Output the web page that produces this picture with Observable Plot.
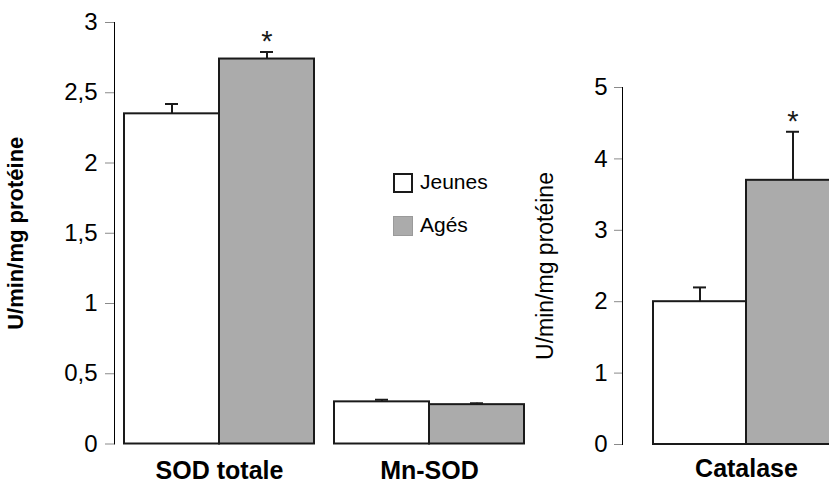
<!DOCTYPE html>
<html>
<head>
<meta charset="utf-8">
<script src="https://cdn.jsdelivr.net/npm/d3@7"></script>
<script src="https://cdn.jsdelivr.net/npm/@observablehq/plot@0.6"></script>
<style>
  html, body { margin: 0; padding: 0; background: #fff; overflow: hidden; }
  #fig { position: relative; width: 829px; height: 483px; overflow: hidden;
         font-family: "Liberation Sans", Arial, sans-serif; color: #000; }
  #fig svg { position: absolute; top: 0; overflow: visible; }
  #fig g[aria-label="y-axis tick"], #fig g[aria-label="y-axis line"],
  #fig g[aria-label="y-axis rule"] { color: #8a8a8a; }
  .sod g[aria-label="y-axis label"] { font-weight: bold; font-size: 22px; }
  .cat g[aria-label="y-axis label"] { font-size: 23px; }
  #fig g[aria-label="y-axis tick label"] { font-size: 24px; }
  #fig g[aria-label="fx-axis tick label"] { font-weight: bold; font-size: 25px; }
  .legend-box { position: absolute; box-sizing: border-box; width: 20px; height: 20px; }
  .legend-text { position: absolute; font-size: 21px; line-height: 21px; white-space: nowrap; }
</style>
</head>
<body>
<div id="fig"></div>
<script>
// Superoxyde dismutase (SOD totale, Mn-SOD) and catalase activity, young vs old
const enzymes = ["SOD totale", "Mn-SOD"];
const groups = ["Jeunes", "Agés"];
const groupFills = ["#ffffff", "#ababab"];

const sodJeunes = [2.35, 0.30];
const sodJeunesErr = [0.07, 0.015];
const sodAges = [2.74, 0.28];
const sodAgesErr = [0.05, 0.01];
const sodAgesSignif = [true, false];

const catLabel = ["Catalase"];
const catJeunes = [2.0];
const catJeunesErr = [0.2];
const catAges = [3.7];
const catAgesErr = [0.68];
const catAgesSignif = [true];

const sodTicks = [0, 0.5, 1, 1.5, 2, 2.5, 3];
const catTicks = [0, 1, 2, 3, 4, 5];
const yLabel = "U/min/mg protéine";

function rowsFor(cats, jv, je, av, ae, sig) {
  const rows = [];
  cats.forEach((c, i) => {
    rows.push({enzyme: c, group: groups[0], value: jv[i], err: je[i], sig: false});
    rows.push({enzyme: c, group: groups[1], value: av[i], err: ae[i], sig: sig[i]});
  });
  return rows;
}

const sodRows = rowsFor(enzymes, sodJeunes, sodJeunesErr, sodAges, sodAgesErr, sodAgesSignif);
const catRows = rowsFor(catLabel, catJeunes, catJeunesErr, catAges, catAgesErr, catAgesSignif);

const ink = "#1a1a1a";
const font = {fontFamily: "'Liberation Sans', Arial, sans-serif", fontSize: "20px",
              color: "#000", background: "transparent", overflow: "visible"};
const commaFormat = d => String(d).replace(".", ",");

function barMarks(rows, capInset) {
  return [
    Plot.barY(rows, {fx: "enzyme", x: "group", y: "value", fill: "group",
                     stroke: ink, strokeWidth: 2}),
    Plot.ruleX(rows, {fx: "enzyme", x: "group", y1: "value", y2: d => d.value + d.err,
                      stroke: ink, strokeWidth: 2}),
    Plot.tickY(rows, {fx: "enzyme", x: "group", y: d => d.value + d.err,
                      stroke: ink, strokeWidth: 2, insetLeft: capInset, insetRight: capInset}),
    Plot.text(rows.filter(d => d.sig), {fx: "enzyme", x: "group", y: d => d.value + d.err,
                      text: () => "*", lineAnchor: "bottom", dy: -1, fontSize: 29, fill: ink})
  ];
}

const sodPlot = Plot.plot({
  className: "sod",
  width: 540, height: 483,
  marginTop: 22, marginBottom: 39.5, marginLeft: 113, marginRight: 6,
  style: font,
  color: {domain: groups, range: groupFills},
  fx: {domain: enzymes, paddingInner: 0, paddingOuter: 0, label: null,
       axis: "bottom", tickSize: 0, tickPadding: 17},
  x: {domain: groups, paddingInner: 0, paddingOuter: 0.105, axis: null},
  y: {domain: [0, 3], ticks: sodTicks, tickFormat: commaFormat,
      tickSize: 9, tickPadding: 8, line: true,
      label: yLabel, labelAnchor: "center", labelArrow: "none", labelOffset: 107},
  marks: barMarks(sodRows, 41)
});
sodPlot.style.left = "0px";

const catPlot = Plot.plot({
  className: "cat",
  width: 340, height: 483,
  marginTop: 87, marginBottom: 39, marginLeft: 82, marginRight: 10,
  style: font,
  color: {domain: groups, range: groupFills},
  fx: {domain: catLabel, paddingInner: 0, paddingOuter: 0, label: null,
       axis: "bottom", tickSize: 0, tickPadding: 15},
  x: {domain: groups, paddingInner: 0, paddingOuter: 31 / 93, axis: null},
  y: {domain: [0, 5], ticks: catTicks, tickFormat: d => String(d),
      tickSize: 8, tickPadding: 7, line: true,
      label: yLabel, labelAnchor: "center", labelArrow: "none", labelOffset: 86},
  marks: barMarks(catRows, 40)
});
catPlot.style.left = "540px";

const fig = document.getElementById("fig");
fig.append(sodPlot, catPlot);

// Legend: one swatch per age group
const legendTops = [173, 216];
groups.forEach((g, i) => {
  const box = document.createElement("div");
  box.className = "legend-box";
  box.style.left = "393px";
  box.style.top = legendTops[i] + "px";
  box.style.background = groupFills[i];
  box.style.border = i === 0 ? "2px solid #1a1a1a" : "1px solid #9a9a9a";
  const txt = document.createElement("div");
  txt.className = "legend-text";
  txt.style.left = "420px";
  txt.style.top = (legendTops[i] - 2) + "px";
  txt.textContent = g;
  fig.append(box, txt);
});
</script>
</body>
</html>
